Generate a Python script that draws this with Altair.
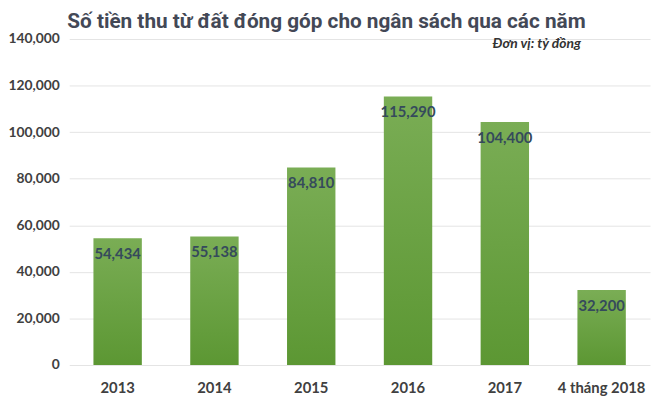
import altair as alt
import pandas as pd

years = ["2013", "2014", "2015", "2016", "2017", "4 tháng 2018"]
values = [54434, 55138, 84810, 115290, 104400, 32200]
y_ticks = [0, 20000, 40000, 60000, 80000, 100000, 120000, 140000]

title_text = "Số tiền thu từ đất đóng góp cho ngân sách qua các năm"
unit_text = "Đơn vị: tỷ đồng"

df = pd.DataFrame({"year": years, "value": values})

x_enc = alt.X(
    "year:N",
    sort=years,
    scale=alt.Scale(paddingInner=0.5, paddingOuter=0.25),
    axis=alt.Axis(
        title=None, labelAngle=0, ticks=False, domain=False,
        labelFont="Lato", labelFontSize=15, labelFontWeight="bold",
        labelColor="#404040", labelPadding=16,
    ),
)
y_enc = alt.Y(
    "value:Q",
    scale=alt.Scale(domain=[0, 140000], nice=False),
    axis=alt.Axis(
        title=None, values=y_ticks, format=",.0f", ticks=False, domain=False,
        labelFont="Lato", labelFontSize=14, labelFontWeight="bold",
        labelColor="#404040", labelPadding=10, gridColor="#e4e4e4",
    ),
)

base = alt.Chart(df)

bars = base.mark_bar(
    color=alt.Gradient(
        gradient="linear",
        stops=[
            alt.GradientStop(color="#7aad55", offset=0),
            alt.GradientStop(color="#5c9733", offset=1),
        ],
        x1=0, x2=0, y1=0, y2=1,
    )
).encode(x=x_enc, y=y_enc)

labels = base.mark_text(
    dy=16, baseline="middle", font="Lato", fontSize=15, fontWeight="bold",
    color="#354a5c",
).encode(x=x_enc, y=y_enc, text=alt.Text("value:Q", format=",.0f"))

unit = alt.Chart(pd.DataFrame({"t": [unit_text]})).mark_text(
    align="right", baseline="middle", font="Lato", fontSize=14,
    fontWeight="bold", fontStyle="italic", color="#333333",
).encode(x=alt.value(518), y=alt.value(5), text="t:N")

chart = alt.layer(bars, labels, unit).properties(
    width=588,
    height=330,
    title=alt.TitleParams(
        text=title_text, anchor="start", frame="group", dx=-2, offset=0,
        font="Roboto", fontSize=21,
        fontWeight="bold", color="#434856",
    ),
    autosize=alt.AutoSizeParams(type="none"),
    padding={"left": 62, "top": 29, "right": 2, "bottom": 30},
).configure_view(stroke=None)

chart.save("out.html", embed_options={"renderer": "svg", "actions": False})
